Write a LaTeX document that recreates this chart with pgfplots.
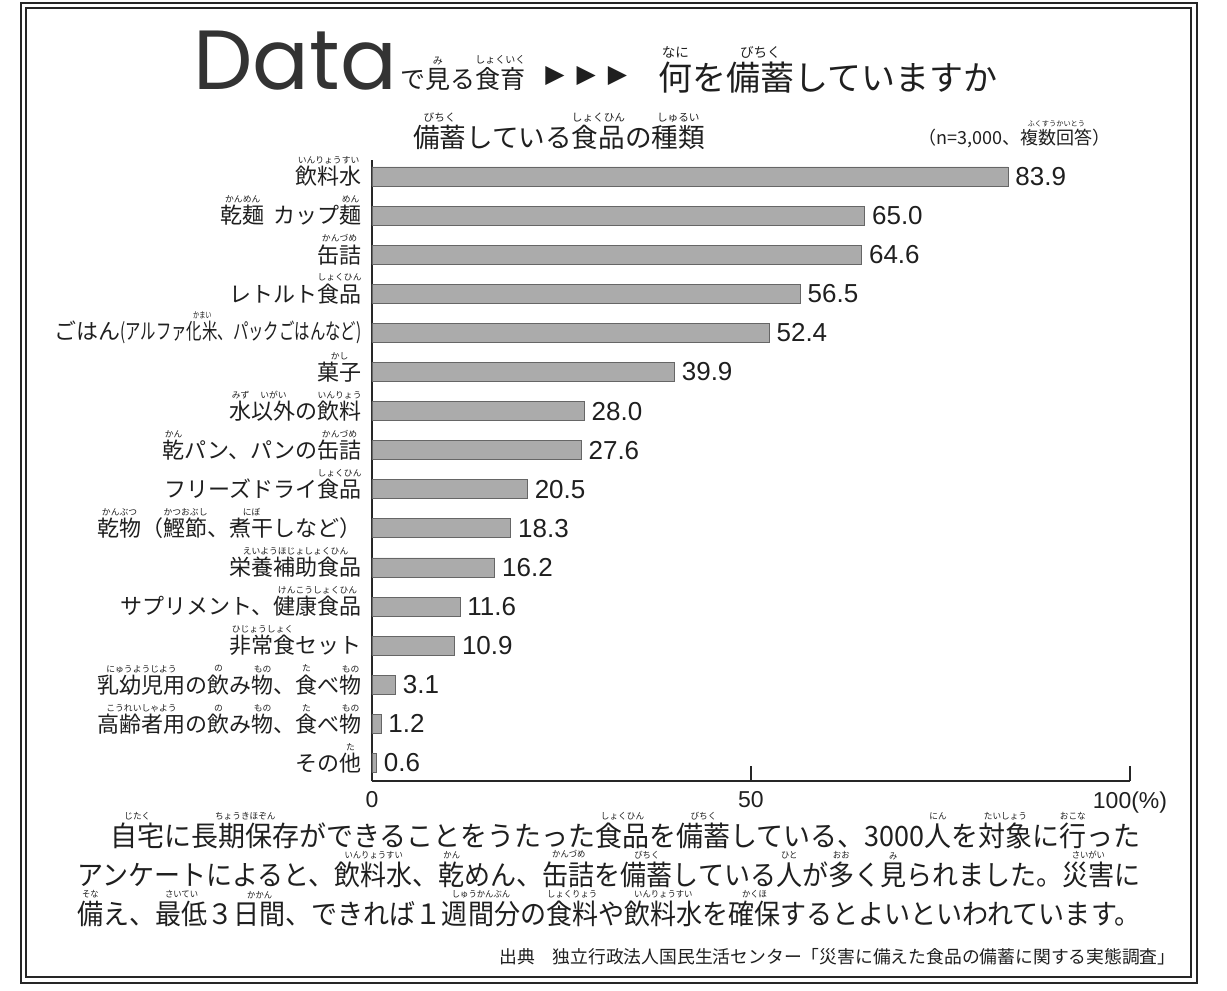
\documentclass[border=0pt]{standalone}
\usepackage{pgfplots}
\pgfplotsset{compat=1.18}
\usepackage{fontspec}
\usepackage{graphicx}
\setmainfont{Noto Sans CJK JP}
\newfontfamily\latin{Liberation Sans}
\newfontfamily\geo{Poppins}
\newfontfamily\sym{DejaVu Sans}
\newbox\rbbase
\newbox\rbtext
\def\rubyratio{0.40}
\makeatletter
\newcommand\ruby[2]{\leavevmode\setbox\rbbase\hbox{#1}%
 \dimen@=\rubyratio\dimexpr\f@size pt\relax\edef\rbsz{\the\dimen@}%
 \setbox\rbtext\hbox{\fontsize{\rbsz}{\rbsz}\selectfont #2}%
 \smash{\rlap{\hbox to \wd\rbbase{\hss\raise\dimexpr\ht\rbbase+0.12em\relax\box\rbtext\hss}}}\box\rbbase}
\makeatother
\begin{document}
\begin{tikzpicture}
\begin{scope}[x=0.5pt,y=-0.5pt]
\path[use as bounding box] (0,0) rectangle (1227,991);
\fill[white] (0,0) rectangle (1227,991);
\end{scope}
\begin{axis}[
 at={(186pt,-390.5pt)}, anchor=south west,
 scale only axis, width=379pt, height=310.5pt,
 xmin=0, xmax=100, ymin=-0.46, ymax=15.42,
 axis x line=bottom, axis y line=left,
 axis line style={-, line width=0.8pt, black!85},
 xtick={0,50,100}, xticklabels={0,50,100(\%)},
 tick align=inside, major tick length=7.5pt,
 xtick style={line width=0.7pt, black!85},
 ytick={0,...,15}, ytick style={draw=none},
 yticklabels={
 {その\ruby{他}{た}},
 {\ruby{高齢者用}{こうれいしゃよう}の\ruby{飲}{の}み\ruby{物}{もの}、\ruby{食}{た}べ\ruby{物}{もの}},
 {\ruby{乳幼児用}{にゅうようじよう}の\ruby{飲}{の}み\ruby{物}{もの}、\ruby{食}{た}べ\ruby{物}{もの}},
 {\ruby{非常食}{ひじょうしょく}セット},
 {サプリメント、\ruby{健康食品}{けんこうしょくひん}},
 {\ruby{栄養補助食品}{えいようほじょしょくひん}},
 {\ruby{乾物}{かんぶつ}（\ruby{鰹節}{かつおぶし}、\ruby{煮干}{にぼ}しなど）},
 {フリーズドライ\ruby{食品}{しょくひん}},
 {\ruby{乾}{かん}パン、パンの\ruby{缶詰}{かんづめ}},
 {\ruby{水}{みず}\ruby{以外}{いがい}の\ruby{飲料}{いんりょう}},
 {\ruby{菓子}{かし}},
 {ごはん\scalebox{0.70}[1]{(アルファ\ruby{化米}{かまい}、パックごはんなど)}},
 {レトルト\ruby{食品}{しょくひん}},
 {\ruby{缶詰}{かんづめ}},
 {\ruby{乾麺}{かんめん}\hspace{0.4em}カップ\ruby{麺}{めん}},
 {\ruby{飲料水}{いんりょうすい}}},
 yticklabel style={anchor=east, inner sep=0pt, xshift=2.5pt, text=black!88, font=\fontsize{11}{13}\selectfont},
 xticklabel style={anchor=north, inner sep=0pt, yshift=-5pt, text=black!88, font=\latin\fontsize{11.5}{13}\selectfont},
 xbar, bar width=9.5pt,
 nodes near coords={\pgfplotspointmeta}, point meta=explicit symbolic,
 nodes near coords style={font=\latin\fontsize{13}{15}\selectfont, text=black!88, anchor=west, inner sep=0pt, xshift=3.5pt},
 clip=false
]
\addplot[fill=black!33, draw=black!60, line width=0.4pt] coordinates {
(0.6,0) [0.6]
(1.2,1) [1.2]
(3.1,2) [3.1]
(10.9,3) [10.9]
(11.6,4) [11.6]
(16.2,5) [16.2]
(18.3,6) [18.3]
(20.5,7) [20.5]
(27.6,8) [27.6]
(28.0,9) [28.0]
(39.9,10) [39.9]
(52.4,11) [52.4]
(56.5,12) [56.5]
(64.6,13) [64.6]
(65.0,14) [65.0]
(83.9,15) [83.9]
};
\end{axis}
\begin{scope}[x=0.5pt,y=-0.5pt, every node/.style={inner sep=0pt, text=black!88}]
\draw[line width=1.1pt, black!85] (21,3) rectangle (1197,983);
\draw[line width=0.7pt, black!85] (26,8) rectangle (1191,977);
% title
\node[anchor=base west, text=black!80] at (193,89) {\geo\fontsize{42}{42}\selectfont Data};
\node[anchor=base west] at (400,88) {\fontsize{12.5}{14}\selectfont で\ruby{見}{み}る\ruby{食育}{しょくいく}};
\node[anchor=west] at (545,76) {\sym\fontsize{12.5}{14}\selectfont ▶\hspace{6pt}▶\hspace{6pt}▶};
\node[anchor=base west] at (658,90) {\fontsize{17}{20}\selectfont \ruby{何}{なに}を\ruby{備蓄}{びちく}していますか};
% subtitle
\node[anchor=base] at (559,147) {\fontsize{13.3}{15}\selectfont \ruby{備蓄}{びちく}している\ruby{食品}{しょくひん}の\ruby{種類}{しゅるい}};
\node[anchor=base west] at (918,144) {\fontsize{9}{10}\selectfont （n=3,000、\ruby{複数回答}{ふくすうかいとう}）};
% paragraph
\def\rubyratio{0.32}
\node[anchor=base west] at (110,846) {\fontsize{14}{16}\selectfont\resizebox{515pt}{\height}{\ruby{自宅}{じたく}に\ruby{長期保存}{ちょうきほぞん}ができることをうたった\ruby{食品}{しょくひん}を\ruby{備蓄}{びちく}している、3000\ruby{人}{にん}を\ruby{対象}{たいしょう}に\ruby{行}{おこな}った}};
\node[anchor=base west] at (77,885) {\fontsize{14}{16}\selectfont\resizebox{531.5pt}{\height}{アンケートによると、\ruby{飲料水}{いんりょうすい}、\ruby{乾}{かん}めん、\ruby{缶詰}{かんづめ}を\ruby{備蓄}{びちく}している\ruby{人}{ひと}が\ruby{多}{おお}く\ruby{見}{み}られました。\ruby{災害}{さいがい}に}};
\node[anchor=base west] at (77,924) {\fontsize{14}{16}\selectfont\resizebox{531.5pt}{\height}{\ruby{備}{そな}え、\ruby{最低}{さいてい}３\ruby{日間}{かかん}、できれば１\ruby{週間分}{しゅうかんぶん}の\ruby{食料}{しょくりょう}や\ruby{飲料水}{いんりょうすい}を\ruby{確保}{かくほ}するとよいといわれています。}};
% source
\node[anchor=base east] at (1176,963) {\fontsize{8.9}{10}\selectfont 出典\hspace{1em}独立行政法人国民生活センター「災害に備えた食品の備蓄に関する実態調査」};
\end{scope}
\end{tikzpicture}
\end{document}
